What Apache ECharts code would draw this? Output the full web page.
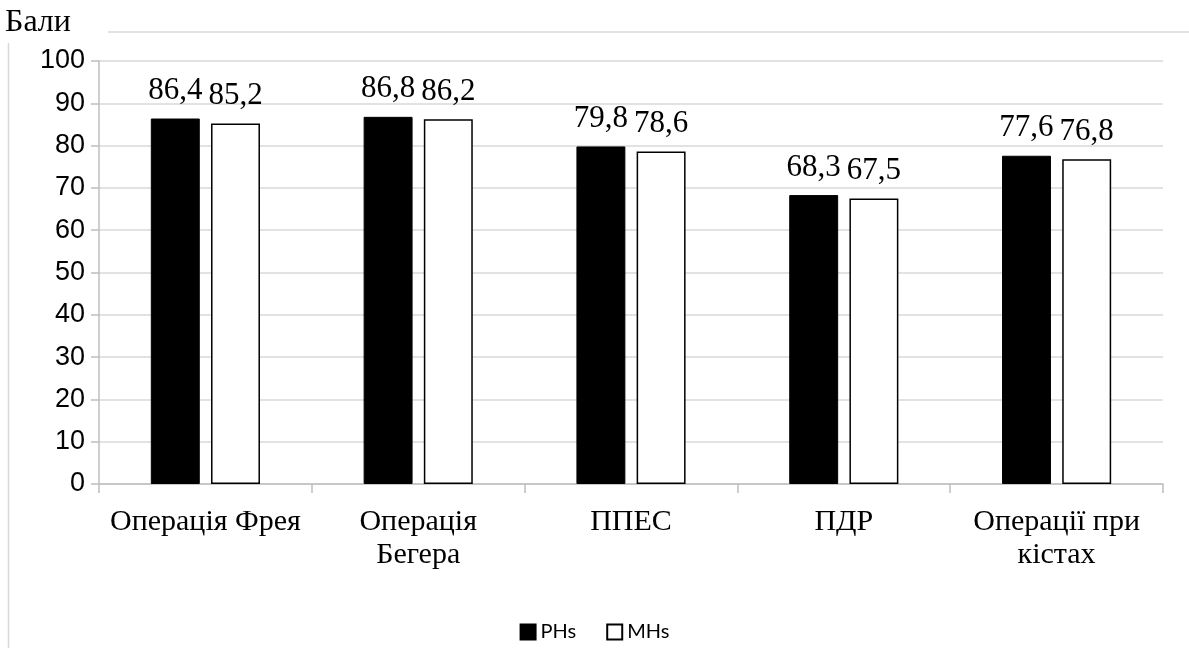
<!DOCTYPE html>
<html><head><meta charset="utf-8">
<script src="https://cdn.jsdelivr.net/npm/echarts@6/dist/echarts.min.js"></script>
<style>html,body{margin:0;padding:0;background:#fff}#c{width:1189px;height:648px}</style>
</head><body><div id="c"></div>
<script>
const categories = ['Операція Фрея', 'Операція\nБегера', 'ППЕС', 'ПДР', 'Операції при\nкістах'];
const seriesNames = ['PHs', 'MHs'];
const phsValues = [86.4, 86.8, 79.8, 68.3, 77.6];
const mhsValues = [85.2, 86.2, 78.6, 67.5, 76.8];
const yTicks = [0, 10, 20, 30, 40, 50, 60, 70, 80, 90, 100];

const chart = echarts.init(document.getElementById('c'), null, {renderer: 'canvas'});
const labelCfg = {
  show: true, position: 'top', distance: 12,
  fontFamily: 'Liberation Serif', fontSize: 31, color: '#000',
  formatter: p => String(p.value).replace('.', ',')
};
chart.setOption({
  animation: false,
  backgroundColor: '#fff',
  graphic: [
    {type: 'line', shape: {x1: 108, y1: 32, x2: 1189, y2: 32}, style: {stroke: '#d9d9d9', lineWidth: 1.5}},
    {type: 'line', shape: {x1: 8.5, y1: 43, x2: 8.5, y2: 648}, style: {stroke: '#d9d9d9', lineWidth: 1.5}},
    {type: 'text', left: 5, top: 7, style: {text: 'Бали', font: '32px "Liberation Serif"', fill: '#000'}}
  ],
  grid: {left: 99, right: 26, top: 61, bottom: 164, containLabel: false},
  legend: {
    data: seriesNames, bottom: 1, left: 'center',
    icon: 'rect', itemWidth: 15, itemHeight: 15, itemGap: 30,
    textStyle: {fontFamily: 'Lato', fontSize: 20, color: '#000'}
  },
  xAxis: {
    type: 'category', data: categories,
    axisLine: {show: true, lineStyle: {color: '#bfbfbf', width: 1.5}},
    axisTick: {show: true, length: 9, lineStyle: {color: '#bfbfbf', width: 1.5}},
    axisLabel: {fontFamily: 'Liberation Serif', fontSize: 30, color: '#000', margin: 22, lineHeight: 33, interval: 0}
  },
  yAxis: {
    type: 'value', min: 0, max: 100, interval: 10,
    axisLine: {show: true, lineStyle: {color: '#bfbfbf', width: 1.5}},
    axisTick: {show: true, length: 8, lineStyle: {color: '#bfbfbf', width: 1.5}},
    splitLine: {show: true, lineStyle: {color: '#d9d9d9', width: 1.5}},
    axisLabel: {fontFamily: 'Liberation Sans', fontSize: 27, color: '#000', margin: 14,
      formatter: v => yTicks.includes(v) ? String(v) : ''}
  },
  series: [
    {name: seriesNames[0], type: 'bar', data: phsValues, barWidth: '23%', barGap: '23%',
      itemStyle: {color: '#000', borderColor: '#000', borderWidth: 1}, label: labelCfg},
    {name: seriesNames[1], type: 'bar', data: mhsValues, barWidth: '23%',
      itemStyle: {color: '#fff', borderColor: '#000', borderWidth: 1.5}, label: labelCfg}
  ]
});
</script></body></html>
